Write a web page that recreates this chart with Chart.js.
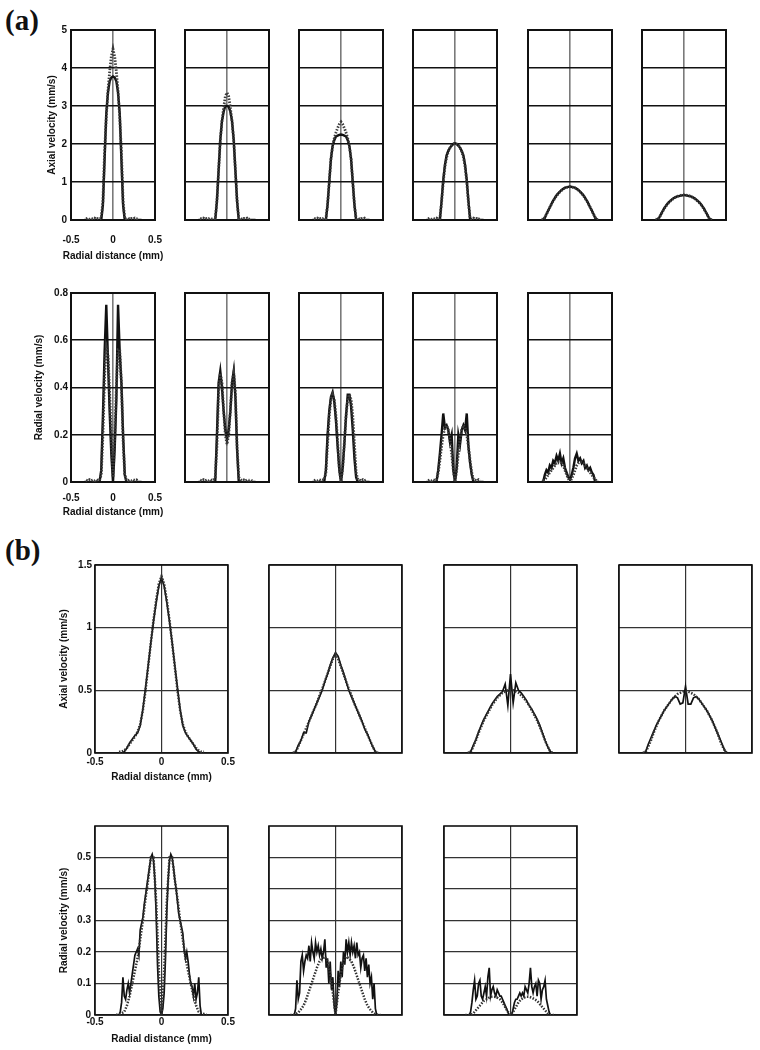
<!DOCTYPE html>
<html>
<head>
<meta charset="utf-8">
<script src="https://cdn.jsdelivr.net/npm/chart.js@4.4.1/dist/chart.umd.min.js"></script>
<style>
  html, body { margin: 0; background: #fff; }
  #page { position: relative; width: 760px; height: 1050px; overflow: hidden; }
  #page canvas { position: absolute; }
  .tag { position: absolute; font: bold 29px "Liberation Serif", "Times New Roman", serif; color: #111; line-height: 1; }
</style>
</head>
<body>
<div id="page">
  <div class="tag" style="left:5px;top:6px">(a)</div>
  <div class="tag" style="left:5px;top:536px">(b)</div>
</div>
<script>
// radial positions (mm) where profiles were sampled
const radialPos = [-0.34,-0.32,-0.3,-0.28,-0.26,-0.24,-0.22,-0.2,-0.18,-0.16,-0.14,-0.12,-0.1,-0.08,-0.06,-0.04,-0.02,0,0.02,0.04,0.06,0.08,0.1,0.12,0.14,0.16,0.18,0.2,0.22,0.24,0.26,0.28,0.3,0.32,0.34];
const radialPosFine = [-0.34,-0.33,-0.32,-0.31,-0.3,-0.29,-0.28,-0.27,-0.26,-0.25,-0.24,-0.23,-0.22,-0.21,-0.2,-0.19,-0.18,-0.17,-0.16,-0.15,-0.14,-0.13,-0.12,-0.11,-0.1,-0.09,-0.08,-0.07,-0.06,-0.05,-0.04,-0.03,-0.02,-0.01,0,0.01,0.02,0.03,0.04,0.05,0.06,0.07,0.08,0.09,0.1,0.11,0.12,0.13,0.14,0.15,0.16,0.17,0.18,0.19,0.2,0.21,0.22,0.23,0.24,0.25,0.26,0.27,0.28,0.29,0.3,0.31,0.32,0.33,0.34];

// tick labels
const xTicks = [-0.5, 0, 0.5];
const aAxialTicks = [0, 1, 2, 3, 4, 5];
const aRadialTicks = [0, 0.2, 0.4, 0.6, 0.8];
const bAxialTicks = [0, 0.5, 1, 1.5];
const bRadialTicks = [0, 0.1, 0.2, 0.3, 0.4, 0.5];

// (a) axial velocity, measured (solid) and theory (dotted)
const aAxMeas1 = [0,0,0,0,0,0,0,0,0,0,0,0.4,1.6,2.8,3.35,3.65,3.75,3.78,3.75,3.65,3.35,2.8,1.6,0.4,0,0,0,0,0,0,0,0,0,0,0];
const aAxTheo1 = [null,0.03,0.05,0.02,0.04,0.03,0.05,0.02,0.04,0.03,0.05,0.5,1.8,2.7,3.4,3.9,4.3,4.5,4.3,3.9,3.4,2.7,1.8,0.5,0.04,0.03,0.05,0.02,0.04,0.03,0.05,0.03,0.04,null,null];
const aAxMeas2 = [0,0,0,0,0,0,0,0,0,0,0,0.5,1.3,2.1,2.6,2.85,3.0,3.0,2.98,2.85,2.6,2.1,1.3,0.5,0,0,0,0,0,0,0,0,0,0,0];
const aAxTheo2 = [null,0.04,0.03,0.05,0.02,0.04,0.03,0.05,0.03,0.04,0.02,0.5,1.3,2.1,2.6,2.95,3.25,3.35,3.25,2.95,2.6,2.1,1.3,0.5,0.03,0.05,0.02,0.04,0.03,0.05,0.02,0.04,null,null,null];
const aAxMeas3 = [0,0,0,0,0,0,0,0,0,0.4,1.0,1.6,1.95,2.1,2.2,2.22,2.24,2.25,2.24,2.22,2.2,2.1,1.95,1.6,1.0,0.4,0,0,0,0,0,0,0,0,0];
const aAxTheo3 = [null,0.04,0.03,0.05,0.02,0.04,0.03,0.05,0.03,0.4,1.0,1.6,1.95,2.15,2.3,2.42,2.52,2.58,2.52,2.42,2.3,2.15,1.95,1.6,1.0,0.4,0.03,0.05,0.02,0.04,0.03,0.05,0.02,null,null];
const aAxMeas4 = [0,0,0,0,0,0,0,0,0,0.5,1.05,1.45,1.7,1.82,1.9,1.96,2.0,2.02,2.0,1.96,1.9,1.82,1.7,1.45,1.05,0.5,0,0,0,0,0,0,0,0,0];
const aAxTheo4 = [null,0.03,0.05,0.02,0.04,0.03,0.05,0.02,0.04,0.45,1.0,1.4,1.65,1.8,1.9,1.97,2.0,2.02,2.0,1.97,1.9,1.8,1.65,1.4,1.0,0.45,0.04,0.02,0.05,0.03,0.04,0.02,0.05,null,null];
const aAxMeas5 = [0,0,0.05,0.16,0.25,0.33,0.43,0.51,0.58,0.65,0.7,0.75,0.79,0.82,0.85,0.86,0.87,0.88,0.87,0.86,0.85,0.82,0.79,0.75,0.7,0.65,0.58,0.51,0.43,0.33,0.25,0.16,0.05,0,0];
const aAxTheo5 = [0.02,0.01,0.07,0.15,0.24,0.34,0.42,0.5,0.57,0.64,0.69,0.74,0.78,0.82,0.84,0.86,0.87,0.87,0.87,0.86,0.84,0.82,0.78,0.74,0.69,0.64,0.57,0.5,0.42,0.34,0.24,0.15,0.07,0.01,0.02];
const aAxMeas6 = [0,0,0.04,0.13,0.21,0.29,0.36,0.42,0.47,0.51,0.55,0.58,0.6,0.62,0.63,0.64,0.65,0.66,0.65,0.64,0.63,0.62,0.6,0.58,0.55,0.51,0.47,0.42,0.36,0.29,0.21,0.13,0.04,0,0];
const aAxTheo6 = [0.02,0.01,0.05,0.12,0.2,0.28,0.35,0.41,0.46,0.5,0.54,0.57,0.6,0.62,0.64,0.65,0.66,0.66,0.66,0.65,0.64,0.62,0.6,0.57,0.54,0.5,0.46,0.41,0.35,0.28,0.2,0.12,0.05,0.01,0.02];

// (a) radial velocity
const aRaMeas1 = [0,0,0,0,0,0,0,0,0,0,0.05,0.28,0.55,0.75,0.52,0.3,0.12,0,0.14,0.35,0.75,0.55,0.42,0.2,0.03,0,0,0,0,0,0,0,0,0,0];
const aRaTheo1 = [null,0.008,0.005,0.01,0.006,0.009,0.005,0.01,0.006,0.01,0.03,0.2,0.45,0.57,0.54,0.38,0.18,0.02,0.18,0.4,0.56,0.56,0.42,0.18,0.03,0.01,0.006,0.009,0.005,0.01,0.007,0.009,0.005,null,null];
const aRaMeas2 = [0,0,0,0,0,0,0,0,0,0,0,0.2,0.42,0.47,0.4,0.3,0.22,0.18,0.22,0.3,0.42,0.47,0.36,0.14,0,0,0,0,0,0,0,0,0,0,0];
const aRaTheo2 = [null,0.008,0.005,0.01,0.006,0.009,0.005,0.01,0.006,0.01,0.02,0.15,0.38,0.46,0.42,0.3,0.2,0.16,0.2,0.3,0.42,0.46,0.38,0.15,0.02,0.01,0.006,0.009,0.005,0.01,0.007,0.009,0.005,null,null];
const aRaMeas3 = [0,0,0,0,0,0,0,0,0.05,0.2,0.3,0.36,0.38,0.34,0.26,0.15,0.05,0,0.06,0.16,0.28,0.37,0.37,0.32,0.22,0.1,0.02,0,0,0,0,0,0,0,0];
const aRaTheo3 = [null,0.006,0.009,0.005,0.01,0.007,0.009,0.01,0.04,0.16,0.28,0.35,0.37,0.35,0.28,0.17,0.06,0,0.06,0.17,0.28,0.35,0.37,0.35,0.28,0.16,0.04,0.01,0.008,0.005,0.01,0.006,0.009,null,null];
const aRaMeas4 = [0,0,0,0,0,0,0,0.05,0.12,0.2,0.29,0.23,0.24,0.22,0.17,0.2,0.05,0,0.06,0.2,0.16,0.22,0.24,0.22,0.29,0.15,0.08,0.03,0,0,0,0,0,0,0];
const aRaTheo4 = [null,0.006,0.009,0.005,0.01,0.007,0.01,0.04,0.09,0.15,0.2,0.23,0.24,0.22,0.18,0.12,0.05,0,0.05,0.12,0.18,0.22,0.24,0.23,0.2,0.15,0.09,0.04,0.01,0.008,0.005,0.01,0.006,null,null];
const aRaMeas5 = [0,0,0.03,0.05,0.04,0.07,0.06,0.09,0.08,0.11,0.09,0.12,0.08,0.1,0.06,0.04,0.02,0.01,0.03,0.06,0.1,0.12,0.09,0.1,0.08,0.09,0.06,0.07,0.05,0.06,0.04,0.03,0,0,0];
const aRaTheo5 = [null,0.005,0.01,0.02,0.03,0.04,0.05,0.06,0.07,0.08,0.085,0.085,0.08,0.07,0.05,0.03,0.015,0,0.015,0.03,0.05,0.07,0.08,0.085,0.085,0.08,0.07,0.06,0.05,0.04,0.03,0.02,0.01,0.005,null];

// (b) axial velocity
const bAxMeas1 = [0,0,0,0.01,0.04,0.08,0.11,0.14,0.16,0.22,0.35,0.52,0.7,0.88,1.05,1.2,1.33,1.4,1.33,1.2,1.05,0.88,0.7,0.52,0.35,0.22,0.16,0.13,0.1,0.07,0.03,0.01,0,0,0];
const bAxTheo1 = [null,0.01,0.01,0.02,0.04,0.07,0.1,0.13,0.17,0.23,0.34,0.5,0.69,0.88,1.06,1.22,1.35,1.41,1.35,1.22,1.06,0.88,0.69,0.5,0.34,0.23,0.17,0.13,0.1,0.07,0.04,0.02,0.01,0.01,null];
const bAxMeas2 = [0,0,0.01,0.06,0.1,0.16,0.16,0.25,0.3,0.35,0.4,0.45,0.5,0.57,0.63,0.7,0.76,0.8,0.77,0.7,0.64,0.57,0.5,0.45,0.4,0.35,0.3,0.25,0.19,0.15,0.1,0.05,0.01,0,0];
const bAxTheo2 = [null,0,0.01,0.05,0.1,0.15,0.2,0.25,0.3,0.35,0.4,0.46,0.51,0.57,0.63,0.69,0.75,0.79,0.75,0.69,0.63,0.57,0.51,0.46,0.4,0.35,0.3,0.25,0.2,0.15,0.1,0.05,0.01,0,null];
const bAxMeas3 = [0,0,0.01,0.06,0.11,0.17,0.22,0.27,0.31,0.35,0.39,0.42,0.45,0.47,0.49,0.55,0.38,0.63,0.4,0.56,0.5,0.48,0.45,0.42,0.38,0.35,0.31,0.27,0.22,0.16,0.1,0.05,0.01,0,0];
const bAxTheo3 = [null,0,0.01,0.05,0.1,0.16,0.21,0.26,0.3,0.34,0.38,0.41,0.44,0.46,0.48,0.49,0.5,0.5,0.5,0.49,0.48,0.46,0.44,0.41,0.38,0.34,0.3,0.26,0.21,0.16,0.1,0.05,0.01,0,null];
const bAxMeas4 = [0,0,0.01,0.07,0.12,0.17,0.22,0.26,0.3,0.34,0.37,0.4,0.43,0.45,0.44,0.39,0.4,0.53,0.39,0.39,0.44,0.45,0.43,0.4,0.37,0.34,0.3,0.26,0.21,0.16,0.11,0.06,0.01,0,0];
const bAxTheo4 = [null,0,0.01,0.05,0.1,0.16,0.21,0.26,0.3,0.34,0.37,0.4,0.43,0.45,0.47,0.48,0.49,0.49,0.49,0.48,0.47,0.45,0.43,0.4,0.37,0.34,0.3,0.26,0.21,0.16,0.1,0.05,0.01,0,null];

// (b) radial velocity: measured on the fine grid, theory on the coarse one
const bRaMeas1 = [0,0,0,0.01,0.04,0.12,0.06,0.05,0.08,0.1,0.07,0.1,0.13,0.16,0.19,0.2,0.21,0.19,0.27,0.29,0.31,0.35,0.38,0.41,0.44,0.47,0.5,0.51,0.49,0.43,0.32,0.16,0.06,0.01,0,0.02,0.07,0.18,0.33,0.43,0.49,0.51,0.5,0.47,0.43,0.4,0.36,0.32,0.3,0.28,0.26,0.21,0.18,0.2,0.17,0.13,0.1,0.09,0.06,0.1,0.05,0.07,0.12,0.03,0,0,0,0,0];
const bRaTheo1 = [0,0.003,0.005,0.01,0.03,0.06,0.1,0.14,0.18,0.24,0.3,0.37,0.43,0.5,0.5,0.36,0.14,0,0.14,0.36,0.5,0.5,0.43,0.37,0.3,0.24,0.18,0.14,0.1,0.06,0.03,0.01,0.005,0.003,0];
const bRaMeas2 = [0,0,0,0,0.02,0.11,0.05,0.07,0.17,0.19,0.14,0.17,0.19,0.18,0.22,0.17,0.23,0.2,0.18,0.23,0.2,0.22,0.19,0.21,0.18,0.2,0.24,0.15,0.18,0.1,0.17,0.08,0.12,0.03,0,0.04,0.14,0.09,0.17,0.12,0.2,0.16,0.24,0.2,0.23,0.19,0.23,0.2,0.22,0.18,0.23,0.19,0.2,0.15,0.18,0.19,0.14,0.18,0.12,0.16,0.1,0.12,0.05,0.1,0.02,0,0,0,0];
const bRaTheo2 = [0,0,0.003,0.008,0.018,0.03,0.05,0.075,0.1,0.125,0.15,0.17,0.18,0.185,0.17,0.13,0.07,0,0.07,0.13,0.17,0.185,0.18,0.17,0.15,0.125,0.1,0.075,0.05,0.03,0.018,0.008,0.003,0,0];
const bRaMeas3 = [0,0,0,0,0.01,0.04,0.08,0.11,0.05,0.06,0.1,0.11,0.06,0.05,0.07,0.09,0.06,0.12,0.15,0.06,0.08,0.09,0.07,0.06,0.08,0.07,0.06,0.06,0.05,0.04,0.03,0.02,0.01,0,0,0,0.02,0.04,0.05,0.05,0.06,0.07,0.06,0.07,0.06,0.09,0.08,0.07,0.1,0.15,0.09,0.07,0.09,0.1,0.06,0.11,0.1,0.05,0.08,0.09,0.11,0.05,0.03,0.01,0,0,0,0,0];
const bRaTheo3 = [0,0,0,0.005,0.015,0.025,0.035,0.045,0.05,0.055,0.058,0.058,0.055,0.05,0.04,0.025,0.01,0,0.01,0.025,0.04,0.05,0.055,0.058,0.058,0.055,0.05,0.045,0.035,0.025,0.015,0.005,0,0,0];

Chart.defaults.font.family = '"Liberation Sans", Arial, sans-serif';
Chart.defaults.font.size = 10;
Chart.defaults.font.weight = 'bold';
Chart.defaults.color = '#111';

const page = document.getElementById('page');

// box around the plot area
const frame = {
  id: 'frame',
  beforeDatasetsDraw(chart, args, opts) {
    const { ctx, chartArea: a } = chart;
    ctx.save();
    ctx.strokeStyle = '#111';
    ctx.lineWidth = opts.width;
    ctx.strokeRect(a.left, a.top, a.right - a.left, a.bottom - a.top);
    ctx.restore();
  }
};

// x axis caption, drawn without the axis width limit (it is wider than the narrow panels)
const caption = {
  id: 'caption',
  afterDraw(chart, args, opts) {
    if (!opts.text) return;
    const { ctx, chartArea: a } = chart;
    ctx.save();
    ctx.font = 'bold 10px "Liberation Sans", Arial, sans-serif';
    ctx.fillStyle = '#111';
    ctx.textAlign = 'center';
    ctx.textBaseline = 'middle';
    ctx.fillText(opts.text, (a.left + a.right) / 2, a.bottom + opts.dy);
    ctx.restore();
  }
};

const heavy = { lineW: 2.4, dotW: 2.8, dotC: '#3a3a3a', gridW: 1.6, hGrid: '#111', vGrid: '#7a7a7a', frameW: 2 };
const light = { lineW: 1.7, dotW: 2.5, dotC: '#333', gridW: 1.2, hGrid: '#333', vGrid: '#333', frameW: 1.6 };

const rows = [
  { top: 30, height: 190, width: 84, lefts: [71, 185, 299, 413, 528, 642], yMax: 5, yTicks: aAxialTicks,
    yTitle: 'Axial velocity (mm/s)', titleX: 52, yPad: 4, xPad: 14, titleY: 256, look: heavy,
    xsMeas: radialPos, xsTheo: radialPos,
    meas: [aAxMeas1, aAxMeas2, aAxMeas3, aAxMeas4, aAxMeas5, aAxMeas6],
    theo: [aAxTheo1, aAxTheo2, aAxTheo3, aAxTheo4, aAxTheo5, aAxTheo6] },
  { top: 293, height: 189, width: 84, lefts: [71, 185, 299, 413, 528], yMax: 0.8, yTicks: aRadialTicks,
    yTitle: 'Radial velocity (mm/s)', titleX: 39, yPad: 3, xPad: 10, titleY: 512, look: heavy,
    xsMeas: radialPos, xsTheo: radialPos,
    meas: [aRaMeas1, aRaMeas2, aRaMeas3, aRaMeas4, aRaMeas5],
    theo: [aRaTheo1, aRaTheo2, aRaTheo3, aRaTheo4, aRaTheo5] },
  { top: 565, height: 188, width: 133, lefts: [95, 269, 444, 619], yMax: 1.5, yTicks: bAxialTicks,
    yTitle: 'Axial velocity (mm/s)', titleX: 64, yPad: 3, xPad: 3, titleY: 777, look: light,
    xsMeas: radialPos, xsTheo: radialPos,
    meas: [bAxMeas1, bAxMeas2, bAxMeas3, bAxMeas4],
    theo: [bAxTheo1, bAxTheo2, bAxTheo3, bAxTheo4] },
  { top: 826, height: 189, width: 133, lefts: [95, 269, 444], yMax: 0.6, yTicks: bRadialTicks,
    yTitle: 'Radial velocity (mm/s)', titleX: 64, yPad: 4, xPad: 1, titleY: 1039, look: light,
    xsMeas: radialPosFine, xsTheo: radialPos,
    meas: [bRaMeas1, bRaMeas2, bRaMeas3],
    theo: [bRaTheo1, bRaTheo2, bRaTheo3] }
];

const pts = (xs, ys) => xs.map((x, i) => ({ x, y: ys[i] }));

function makePanel(row, i) {
  const first = i === 0;
  const g = row.look;
  // side room must exceed the tick padding, which Chart.js adds to the axes' edge padding
  const padT = 14, padR = 24;
  const padL = first ? row.lefts[0] - 1 : 20;
  const plotBottom = row.top + row.height;
  const padB = first ? row.titleY - plotBottom + 10 : 14;
  const left = row.lefts[i] - padL;
  const top = row.top - padT;
  const cv = document.createElement('canvas');
  cv.width = padL + row.width + padR;
  cv.height = padT + row.height + padB;
  cv.style.left = left + 'px';
  cv.style.top = top + 'px';
  page.appendChild(cv);

  new Chart(cv, {
    type: 'line',
    data: {
      datasets: [
        { data: pts(row.xsTheo, row.theo[i]), borderColor: g.dotC, borderWidth: g.dotW, borderDash: [1.5, 1.5], pointRadius: 0, tension: 0 },
        { data: pts(row.xsMeas, row.meas[i]), borderColor: '#111', borderWidth: g.lineW, pointRadius: 0, tension: 0 }
      ]
    },
    options: {
      responsive: false,
      animation: false,
      events: [],
      layout: { padding: { top: padT, right: padR, left: 0, bottom: 0 } },
      plugins: {
        legend: { display: false }, tooltip: { enabled: false },
        frame: { width: g.frameW },
        caption: { text: first ? 'Radial distance (mm)' : '', dy: row.titleY - plotBottom }
      },
      scales: {
        x: {
          type: 'linear', min: -0.5, max: 0.5,
          afterBuildTicks: s => { s.ticks = xTicks.map(v => ({ value: v })); },
          afterFit: s => { s.height = padB; },
          ticks: { padding: row.xPad, maxRotation: 0, autoSkip: false, callback: v => first ? String(v) : '' },
          grid: { color: g.vGrid, lineWidth: g.gridW, drawTicks: false },
          border: { display: false }
        },
        y: {
          min: 0, max: row.yMax,
          afterBuildTicks: s => { s.ticks = row.yTicks.map(v => ({ value: v })); },
          afterFit: s => { s.width = padL; },
          ticks: { padding: row.yPad, autoSkip: false, callback: v => first ? String(v) : '' },
          grid: { color: g.hGrid, lineWidth: g.gridW, drawTicks: false },
          border: { display: false },
          title: { display: first, text: row.yTitle, padding: { top: row.titleX - left - 6, bottom: 0 } }
        }
      }
    },
    plugins: [frame, caption]
  });
}

rows.forEach(row => row.lefts.forEach((_, i) => makePanel(row, i)));
</script>
</body>
</html>
